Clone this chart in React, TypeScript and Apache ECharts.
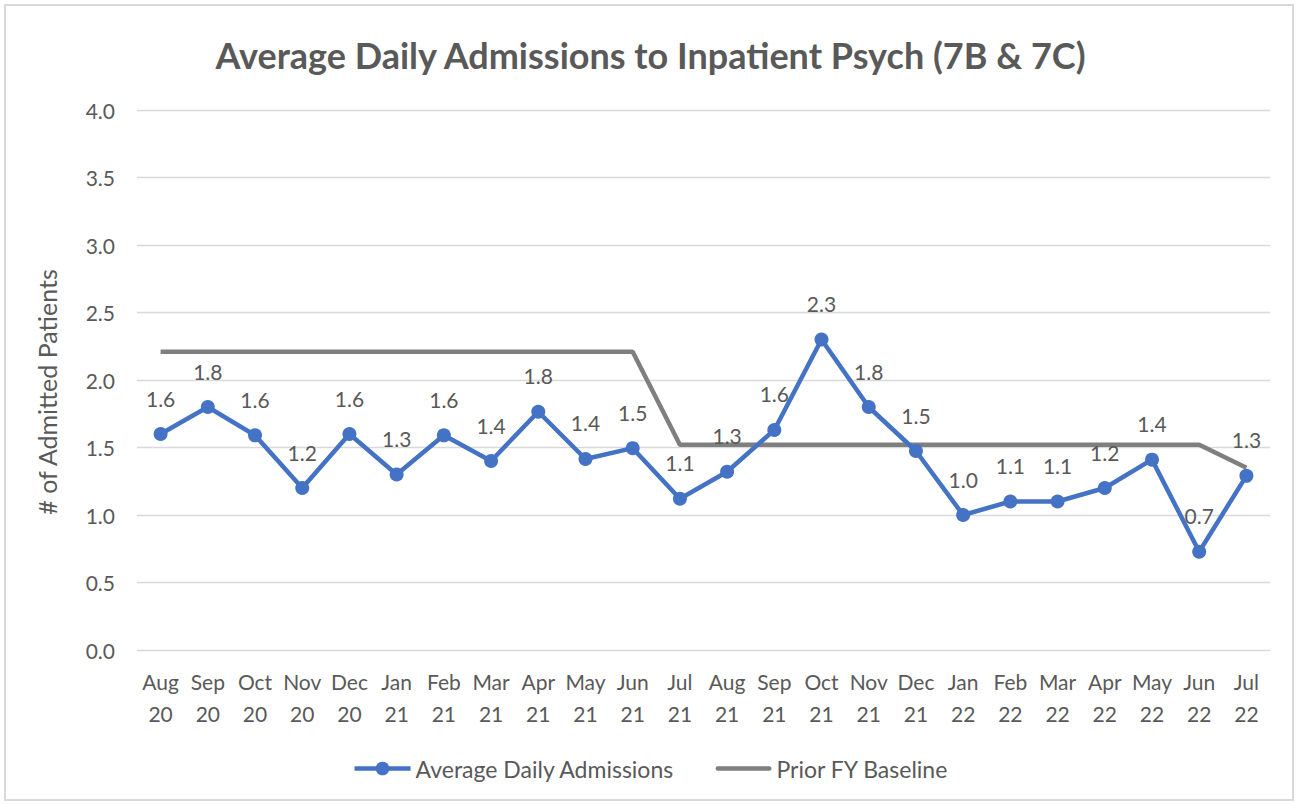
import React, { useEffect, useRef } from "react";
import * as echarts from "echarts";

const categories = [
  "Aug\n20", "Sep\n20", "Oct\n20", "Nov\n20", "Dec\n20", "Jan\n21", "Feb\n21", "Mar\n21",
  "Apr\n21", "May\n21", "Jun\n21", "Jul\n21", "Aug\n21", "Sep\n21", "Oct\n21", "Nov\n21",
  "Dec\n21", "Jan\n22", "Feb\n22", "Mar\n22", "Apr\n22", "May\n22", "Jun\n22", "Jul\n22",
];

const admissions = [
  1.6, 1.8, 1.59, 1.2, 1.6, 1.3, 1.59, 1.4, 1.765, 1.415, 1.495, 1.12,
  1.32, 1.63, 2.3, 1.8, 1.474, 1.0, 1.1, 1.1, 1.2, 1.41, 0.728, 1.29,
];

const baseline = [
  2.21, 2.21, 2.21, 2.21, 2.21, 2.21, 2.21, 2.21, 2.21, 2.21, 2.21, 1.52,
  1.52, 1.52, 1.52, 1.52, 1.52, 1.52, 1.52, 1.52, 1.52, 1.52, 1.52, 1.35,
];

const TEXT = "#595959";
const FONT = "Lato, 'Open Sans', sans-serif";

export default function App() {
  const ref = useRef<HTMLDivElement>(null);
  useEffect(() => {
    if (!ref.current) return;
    const chart = echarts.init(ref.current, null, { renderer: "svg" });
    chart.setOption({
      animation: false,
      backgroundColor: "#ffffff",
      textStyle: { fontFamily: FONT },
      title: {
        text: "Average Daily Admissions to Inpatient Psych (7B & 7C)",
        left: "center",
        top: 32,
        textStyle: { color: TEXT, fontSize: 36, fontWeight: "bold", fontFamily: FONT },
      },
      grid: { left: 137, right: 31, top: 110, bottom: 155, containLabel: false },
      xAxis: {
        type: "category",
        data: categories,
        boundaryGap: true,
        axisLine: { show: false },
        axisTick: { show: false },
        axisLabel: {
          color: TEXT,
          fontSize: 21,
          lineHeight: 32,
          margin: 15,
          interval: 0,
          fontFamily: FONT,
        },
      },
      yAxis: {
        type: "value",
        min: 0,
        max: 4,
        interval: 0.5,
        axisLine: { show: false },
        axisTick: { show: false },
        axisLabel: {
          color: TEXT,
          fontSize: 21,
          margin: 22,
          fontFamily: FONT,
          formatter: (v: number) => v.toFixed(1),
        },
        splitLine: { lineStyle: { color: "#D9D9D9", width: 1.3 } },
      },
      legend: {
        bottom: 20,
        left: "center",
        itemWidth: 56,
        itemHeight: 17,
        itemGap: 41,
        lineStyle: { width: 4.5 },
        textStyle: { color: TEXT, fontSize: 23, fontFamily: FONT },
        data: [
          { name: "Average Daily Admissions", lineStyle: { width: 4.5, color: "#4472C4" } },
          {
            name: "Prior FY Baseline",
            icon: "path://M2.25,0 L53.75,0 A2.25,2.25 0 0 1 53.75,4.5 L2.25,4.5 A2.25,2.25 0 0 1 2.25,0 Z",
          },
        ],
      },
      graphic: [
        {
          type: "rect",
          shape: { x: 5, y: 5, width: 1288, height: 795 },
          style: { fill: "none", stroke: "#D9D9D9", lineWidth: 2 },
          silent: true,
        },
        {
          type: "text",
          x: 47,
          y: 392,
          rotation: Math.PI / 2,
          style: {
            text: "# of Admitted Patients",
            fill: TEXT,
            fontSize: 25,
            fontFamily: FONT,
            align: "center",
            verticalAlign: "middle",
          },
        },
      ],
      series: [
        {
          name: "Prior FY Baseline",
          type: "line",
          data: baseline,
          symbol: "none",
          lineStyle: { color: "#7F7F7F", width: 4.5 },
          itemStyle: { color: "#7F7F7F" },
          z: 2,
        },
        {
          name: "Average Daily Admissions",
          type: "line",
          data: admissions,
          symbol: "circle",
          symbolSize: 14,
          lineStyle: { color: "#4472C4", width: 4.5 },
          itemStyle: { color: "#4472C4" },
          z: 3,
          label: {
            show: true,
            position: "top",
            distance: 18,
            color: TEXT,
            fontSize: 21,
            lineHeight: 22,
            fontFamily: FONT,
            formatter: (p: any) => Number(p.value).toFixed(1),
          },
        },
      ],
    });
    return () => chart.dispose();
  }, []);
  return (
    <div
      ref={ref}
      style={{ position: "absolute", left: 0, top: 0, width: 1301, height: 805 }}
    />
  );
}
